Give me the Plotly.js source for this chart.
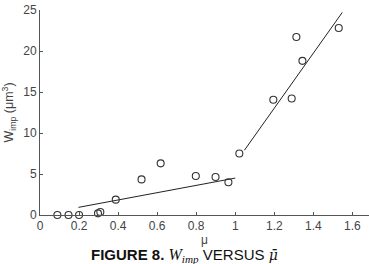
<!DOCTYPE html>
<html><head><meta charset="utf-8">
<script src="https://cdn.plot.ly/plotly-3.0.1.min.js"></script>
<style>html,body{margin:0;padding:0;background:#fff;}#plot{width:369px;height:264px;}</style>
</head><body><div id="plot"></div>
<script>
const muValues = [0.089, 0.146, 0.200, 0.297, 0.309, 0.388, 0.520, 0.618, 0.798, 0.899, 0.965, 1.021, 1.195, 1.289, 1.313, 1.344, 1.530];
const wImpValues = [0.0, 0.0, 0.0, 0.2, 0.37, 1.87, 4.34, 6.3, 4.75, 4.63, 4.0, 7.5, 14.06, 14.2, 21.7, 18.8, 22.8];
const fitLowX = [0.197, 1.0];
const fitLowY = [0.93, 4.5];
const fitHighX = [1.047, 1.548];
const fitHighY = [7.9, 24.7];
const xTicks = [0, 0.2, 0.4, 0.6, 0.8, 1, 1.2, 1.4, 1.6];
const xTickText = ['0', '0.2', '0.4', '0.6', '0.8', '1', '1.2', '1.4', '1.6'];
const yTicks = [0, 5, 10, 15, 20, 25];

const traces = [
  {x: fitLowX, y: fitLowY, mode: 'lines', line: {color: '#222', width: 1}, hoverinfo: 'skip'},
  {x: fitHighX, y: fitHighY, mode: 'lines', line: {color: '#222', width: 1}, hoverinfo: 'skip'},
  {x: muValues, y: wImpValues, mode: 'markers', cliponaxis: false,
   marker: {symbol: 'circle-open', size: 7, color: '#333', line: {width: 1.1, color: '#333'}}}
];

const axFont = {family: 'Liberation Sans, Arial, sans-serif', size: 12, color: '#444'};
const serif = 'font-family:Liberation Serif, serif';
const layout = {
  width: 369, height: 264,
  margin: {l: 39.5, r: 0, t: 10, b: 48.7, pad: 0},
  paper_bgcolor: '#fff', plot_bgcolor: '#fff',
  showlegend: false,
  xaxis: {range: [0, 1.685], tickvals: xTicks, ticktext: xTickText, ticks: 'inside', ticklen: 3,
          tickcolor: '#555', showline: true, linecolor: '#555', linewidth: 1, showgrid: false, zeroline: false,
          tickfont: axFont, title: {text: 'μ', font: axFont, standoff: 0}},
  yaxis: {range: [0, 25], tickvals: yTicks, ticks: 'inside', ticklen: 3,
          tickcolor: '#555', showline: true, linecolor: '#555', linewidth: 1, showgrid: false, zeroline: false,
          tickfont: axFont, title: {text: 'W<sub>imp</sub> (μm<sup>3</sup>)', font: {family: axFont.family, size: 12.5, color: '#444'}, standoff: 8}},
  annotations: [{
    xref: 'paper', yref: 'paper', x: 0.4385, y: -0.197, xanchor: 'center', yanchor: 'middle', showarrow: false,
    text: '<b>FIGURE 8.</b> <span style="' + serif + ';font-size:16px"><i>W<sub>imp</sub></i></span> VERSUS <span style="font-family:DejaVu Serif, serif;font-size:14px"><i>μ̄</i></span>',
    font: {family: 'Liberation Sans, Arial, sans-serif', size: 15, color: '#111'}
  }]
};
Plotly.newPlot('plot', traces, layout, {staticPlot: true, displayModeBar: false});
</script></body></html>
